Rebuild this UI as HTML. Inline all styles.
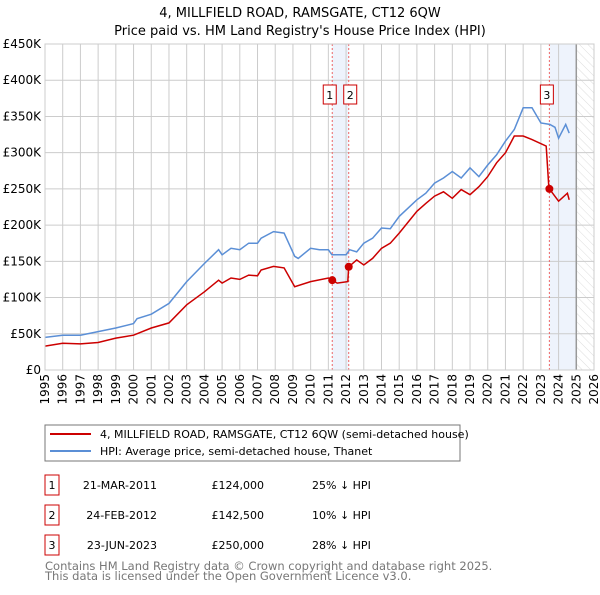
<!DOCTYPE html>
<html><head><meta charset="utf-8"><style>
body{margin:0;background:#fff;font-family:"Liberation Sans","DejaVu Sans",sans-serif;}
svg text{font-family:"DejaVu Sans","Liberation Sans",sans-serif;}
</style></head><body>
<svg id="c" width="600" height="590" xmlns="http://www.w3.org/2000/svg">
<defs><pattern id="hatch" width="6" height="6" patternUnits="userSpaceOnUse" patternTransform="rotate(-45)"><line x1="0" y1="0" x2="0" y2="6" stroke="#ddd" stroke-width="1"/></pattern></defs>
<text x="300" y="17" text-anchor="middle" font-size="13">4, MILLFIELD ROAD, RAMSGATE, CT12 6QW</text>
<text x="300" y="35" text-anchor="middle" font-size="13">Price paid vs. HM Land Registry's House Price Index (HPI)</text>
<g id="plot"></g>
<rect x="45" y="425" width="415" height="36" fill="#fff" stroke="#777"/>
<line x1="50" y1="434" x2="91" y2="434" stroke="#cc0000" stroke-width="2"/>
<text x="100" y="438" font-size="11">4, MILLFIELD ROAD, RAMSGATE, CT12 6QW (semi-detached house)</text>
<line x1="50" y1="451" x2="91" y2="451" stroke="#5b8fd6" stroke-width="2"/>
<text x="100" y="455" font-size="11">HPI: Average price, semi-detached house, Thanet</text>
<g id="table" font-size="11"></g>
<text x="45" y="570" font-size="11.5" fill="#777">Contains HM Land Registry data © Crown copyright and database right 2025.</text>
<text x="45" y="580" font-size="11.5" fill="#777">This data is licensed under the Open Government Licence v3.0.</text>
</svg>
<script>
const yTicks=[0,50000,100000,150000,200000,250000,300000,350000,400000,450000];
const yLabels=["£0","£50K","£100K","£150K","£200K","£250K","£300K","£350K","£400K","£450K"];
const xYears=[1995,1996,1997,1998,1999,2000,2001,2002,2003,2004,2005,2006,2007,2008,2009,2010,2011,2012,2013,2014,2015,2016,2017,2018,2019,2020,2021,2022,2023,2024,2025,2026];
const hpiT=[1995,1996,1997,1998,1999,2000,2000.2,2001,2002,2003,2004,2004.8,2005,2005.5,2006,2006.5,2007,2007.2,2007.9,2008.5,2009.1,2009.3,2010,2010.5,2011,2011.2,2012,2012.2,2012.6,2013,2013.5,2014,2014.5,2015,2016,2016.5,2017,2017.5,2018,2018.5,2019,2019.5,2020,2020.5,2021,2021.5,2022,2022.5,2023,2023.5,2023.8,2024,2024.4,2024.6];
const hpiV=[45,48,48,53,58,64,71,77,92,122,147,166,159,168,166,175,175,182,191,189,157,154,168,166,166,159,159,166,163,175,182,196,195,212,235,244,258,265,274,265,279,267,283,297,316,332,362,362,341,339,335,320,339,327];
const redT=[1995,1996,1997,1998,1999,2000,2001,2002,2003,2004,2004.8,2005,2005.5,2006,2006.5,2007,2007.2,2007.9,2008.5,2009.1,2010,2011,2011.22,2011.5,2012.1,2012.15,2012.6,2013,2013.5,2014,2014.5,2015,2016,2016.5,2017,2017.5,2018,2018.5,2019,2019.5,2020,2020.5,2021,2021.5,2022,2022.5,2023.3,2023.45,2023.48,2024,2024.5,2024.6];
const redV=[33,37,36,38,44,48,58,65,90,108,124,120,127,125,131,130,138,143,141,115,122,127,124,120,122,142.5,152,145,154,168,175,189,219,230,240,246,237,249,242,253,267,286,300,323,323,318,309,253,250,233,244,235];
const saleT=[2011.22,2012.15,2023.48];
const saleV=[124,142.5,250];
const saleLabels=["1","2","3"];
const saleDates=["21-MAR-2011","24-FEB-2012","23-JUN-2023"];
const salePrices=["£124,000","£142,500","£250,000"];
const saleHpi=["25% ↓ HPI","10% ↓ HPI","28% ↓ HPI"];

const NS="http://www.w3.org/2000/svg";
const X0=45,X1=594,Y0=370,Y1=44;
const xs=t=>X0+(t-1995)/(2026-1995)*(X1-X0);
const ys=v=>Y0-v/450000*(Y0-Y1);
const plot=document.getElementById('plot');
function mk(tag,a,p){const e=document.createElementNS(NS,tag);for(const k in a)e.setAttribute(k,a[k]);(p||plot).appendChild(e);return e;}
let b1=mk('rect',{x:xs(saleT[0]),y:Y1,width:xs(saleT[1])-xs(saleT[0]),height:Y0-Y1,fill:'#eef3fc'});


let b2=mk('rect',{x:xs(saleT[2]),y:Y1,width:xs(2025)-xs(saleT[2]),height:Y0-Y1,fill:'#eef3fc'});


let h=mk('rect',{x:xs(2025),y:Y1,width:X1-xs(2025),height:Y0-Y1,fill:'url(#hatch)'});


xYears.forEach(y=>{const l=mk('line',{x1:xs(y),x2:xs(y),y1:Y1,y2:Y0,stroke:'#ccc'});


const px=xs(y)+4;
const t=mk('text',{x:px,y:374,'text-anchor':'end','font-size':12,transform:'rotate(-90 '+px+' 374)'});t.textContent=y;

});
yTicks.forEach((v,i)=>{const l=mk('line',{x1:X0,x2:X1,y1:ys(v),y2:ys(v),stroke:'#ccc'});


const t=mk('text',{x:41,y:ys(v)+4,'text-anchor':'end','font-size':12});t.textContent=yLabels[i];

});
let cur=mk('line',{x1:xs(2025),x2:xs(2025),y1:Y1,y2:Y0,stroke:'#999','stroke-width':1.5});


saleT.forEach((t,i)=>{const l=mk('line',{x1:xs(t),x2:xs(t),y1:Y1,y2:Y0,stroke:'#e66','stroke-dasharray':'2,2'});

});
function path(T,V){return T.map((t,i)=>(i?'L':'M')+xs(t).toFixed(1)+','+ys(V[i]*1000).toFixed(1)).join('');}
let hp=mk('path',{d:path(hpiT,hpiV),fill:'none',stroke:'#5b8fd6','stroke-width':1.5});


let rp=mk('path',{d:path(redT,redV),fill:'none',stroke:'#cc0000','stroke-width':1.5});


saleT.forEach((t,i)=>{const c=mk('circle',{cx:xs(t),cy:ys(saleV[i]*1000),r:4,fill:'#cc0000'});


const bx=i==0?xs(t)-9:(i==1?xs(t)-5:xs(t)-9);
const r=mk('rect',{x:bx,y:85,width:13,height:19,fill:'#fff',stroke:'#cc0000'});


const tx=mk('text',{x:bx+6.5,y:99,'text-anchor':'middle','font-size':11});tx.textContent=saleLabels[i];

});
let bd=mk('rect',{x:X0,y:Y1,width:X1-X0,height:Y0-Y1,fill:'none',stroke:'#ccc'});


const tb=document.getElementById('table');
saleLabels.forEach((s,i)=>{const y=475+i*30;
const r=mk('rect',{x:45,y:y,width:14,height:20,fill:'none',stroke:'#cc0000'},tb);


const vals=[[52,'middle',s],[157,'end',saleDates[i]],[264,'end',salePrices[i]],[312,'start',saleHpi[i]]];
vals.forEach((v,j)=>{const t=mk('text',{x:v[0],y:y+14,'text-anchor':v[1]},tb);t.textContent=v[2];

});});
</script>
</body></html>
